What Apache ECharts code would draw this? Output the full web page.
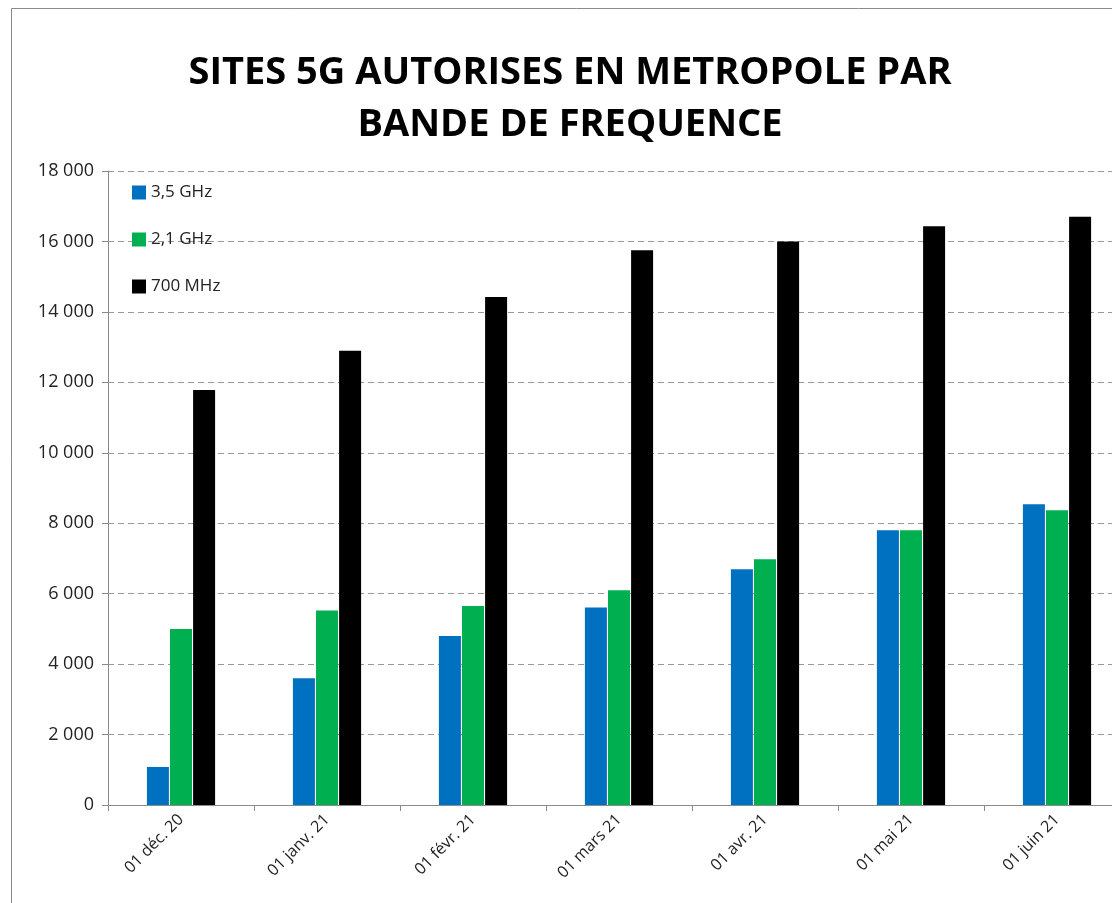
<!DOCTYPE html>
<html>
<head>
<meta charset="utf-8">
<script src="https://cdn.jsdelivr.net/npm/echarts@6/dist/echarts.min.js"></script>
<style>
  html, body { margin: 0; padding: 0; background: #fff; overflow: hidden; }
  #main { width: 1140px; height: 903px; }
</style>
</head>
<body>
<div id="main"></div>
<script>
// dates relevées
var dates = ["01 déc. 20", "01 janv. 21", "01 févr. 21", "01 mars 21", "01 avr. 21", "01 mai 21", "01 juin 21"];
var band35 = [1080, 3600, 4800, 5610, 6690, 7800, 8540];
var band21 = [5000, 5520, 5650, 6100, 6980, 7800, 8370];
var band700 = [11780, 12900, 14420, 15750, 16000, 16430, 16700];

var fmt = function(v) {
  return String(v).replace(/\B(?=(\d{3})+(?!\d))/g, " ");
};

var myChart = echarts.init(document.getElementById("main"));
var font = "Open Sans";
var option = {
  animation: false,
  backgroundColor: "#fff",
  title: {
    text: "SITES 5G AUTORISES EN METROPOLE PAR\nBANDE DE FREQUENCE",
    left: 565,
    top: 42,
    textAlign: "center",
    textStyle: {
      fontFamily: font,
      fontWeight: "bold",
      fontSize: 38,
      lineHeight: 52,
      color: "#000"
    }
  },
  graphic: [
    {
      type: "rect",
      shape: { x: 11.5, y: 8.5, width: 1200, height: 1000 },
      style: { fill: "none", stroke: "#8a8a8a", lineWidth: 1 },
      silent: true
    }
  ],
  legend: {
    orient: "vertical",
    left: 127,
    top: 179,
    itemWidth: 14,
    itemHeight: 14,
    itemGap: 30,
    icon: "rect",
    textStyle: { fontFamily: font, fontSize: 17, color: "#222" },
    data: ["3,5 GHz", "2,1 GHz", "700 MHz"]
  },
  grid: {
    left: 108,
    top: 171,
    width: 1022,
    height: 634
  },
  xAxis: {
    type: "category",
    data: dates,
    axisLine: { lineStyle: { color: "#8a8a8a" } },
    axisTick: { show: true, length: 6, alignWithLabel: false, lineStyle: { color: "#8a8a8a" } },
    axisLabel: {
      rotate: 45,
      interval: 0,
      fontFamily: font,
      fontSize: 16,
      color: "#222",
      margin: 12
    }
  },
  yAxis: {
    type: "value",
    min: 0,
    max: 18000,
    interval: 2000,
    axisLine: { show: true, lineStyle: { color: "#8a8a8a" } },
    axisTick: { show: true, length: 6, inside: false, lineStyle: { color: "#8a8a8a" } },
    splitLine: { lineStyle: { color: "#999", type: [6, 4] } },
    axisLabel: {
      formatter: fmt,
      fontFamily: font,
      fontSize: 18,
      color: "#222",
      margin: 14
    }
  },
  series: [
    {
      name: "3,5 GHz",
      type: "bar",
      data: band35,
      barWidth: 22,
      barGap: "5%",
      itemStyle: { color: "#0070C0" }
    },
    {
      name: "2,1 GHz",
      type: "bar",
      data: band21,
      barWidth: 22,
      barGap: "5%",
      itemStyle: { color: "#00B050" }
    },
    {
      name: "700 MHz",
      type: "bar",
      data: band700,
      barWidth: 22,
      barGap: "5%",
      itemStyle: { color: "#000000" }
    }
  ]
};
myChart.setOption(option);
</script>
</body>
</html>
